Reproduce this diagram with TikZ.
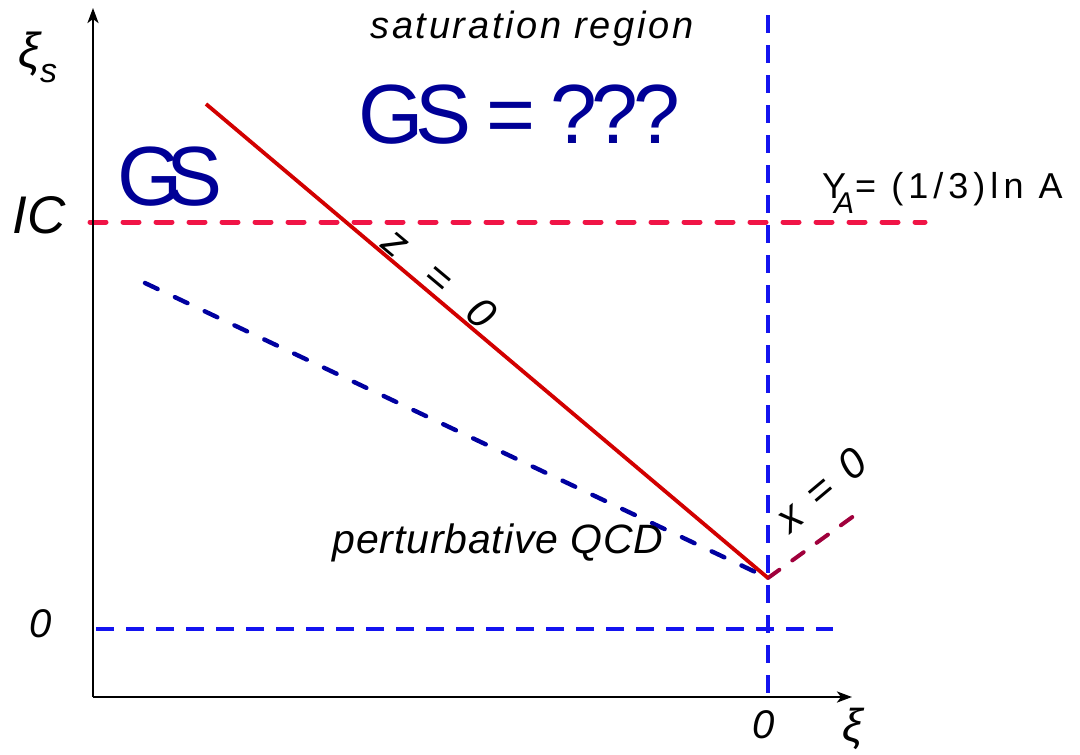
\documentclass[tikz,border=0pt]{standalone}
\usepackage{fontspec}
\setmainfont{Liberation Sans}
\usetikzlibrary{arrows.meta}
\newcommand{\myfs}[1]{\fontsize{#1}{#1}\selectfont}
\definecolor{icred}{RGB}{240,20,70}
\definecolor{zred}{RGB}{210,0,0}
\definecolor{vblue}{RGB}{20,20,240}
\definecolor{navyb}{RGB}{0,0,160}
\definecolor{maroonb}{RGB}{160,0,60}
\definecolor{gsblue}{RGB}{0,0,150}
\begin{document}
\begin{tikzpicture}[x=1pt,y=-1pt,
  axis/.style={black,line width=2.6pt,-{Stealth[length=15pt,width=11pt,inset=4pt]}},
  icline/.style={icred,line width=5pt,line cap=round,dash pattern=on 16pt off 17pt},
  bdash/.style={vblue,line width=3.4pt,dash pattern=on 18pt off 12pt},
  pline/.style={navyb,line width=4.4pt,line cap=round,dash pattern=on 14pt off 19pt},
  xline/.style={maroonb,line width=4pt,line cap=round,dash pattern=on 14pt off 16pt},
  zline/.style={zred,line width=3.8pt},
  lbl/.style={inner sep=0pt,font=\myfs{40}\itshape},
  gs/.style={inner sep=0pt,text=gsblue},
]
\useasboundingbox (0,0) rectangle (1080,755);
% coordinates
\coordinate (O) at (93,697);
\coordinate (ytip) at (93,8);
\coordinate (xtip) at (852,697);
\coordinate (vtop) at (768,15);
\coordinate (vbot) at (768,697);
\coordinate (hl) at (96,629);
\coordinate (hr) at (833,629);
\coordinate (icl) at (90,222);
\coordinate (icr) at (925,222);
\coordinate (zs) at (206,104);
\coordinate (V) at (768,578);
\coordinate (ps) at (145,283);
\coordinate (xe) at (862,510);
% lines
\draw[bdash] (vtop) -- (vbot);
\draw[bdash] (hl) -- (hr);
\draw[pline] (ps) -- (V);
\draw[xline] (V) -- (xe);
\draw[icline] (icl) -- (icr);
\draw[zline] (zs) -- (V);
\draw[axis] (O) -- (ytip);
\draw[axis] (O) -- (xtip);
% labels
\node[inner sep=0pt,anchor=base west,font=\myfs{49}\itshape] (xis) at (18,67) {ξ\raisebox{-15pt}{\myfs{34}s}};
\node[inner sep=0pt,anchor=base,font=\myfs{53}\itshape] (ic) at (39,233) {IC};
\node[lbl,anchor=base] (zero1) at (41,637) {0};
\node[lbl,anchor=base] (zero2) at (764,738) {0};
\node[inner sep=0pt,anchor=base,font=\myfs{46}\itshape] (xi) at (853,741) {ξ};
\node[gs,anchor=base,font={\myfs{84}\addfontfeature{LetterSpace=-20}}] (gs1) at (170,205) {GS};
\node[gs,anchor=base west,font={\myfs{84}}] (gs2) at (358,143) {{\addfontfeature{LetterSpace=-10}GS = }{\addfontfeature{LetterSpace=-6}???}};
\node[inner sep=0pt,anchor=base,font={\myfs{38}\itshape\addfontfeature{LetterSpace=7}}] (sat) at (532,38) {saturation region};
\node[inner sep=0pt,anchor=base,font={\myfs{41}\itshape\addfontfeature{LetterSpace=2}}] (pqcd) at (498,553) {perturbative QCD};
\node[inner sep=0pt,anchor=base west,font={\myfs{36}\addfontfeature{LetterSpace=14}}] (ya) at (822,198) {Y\hspace{-12pt}\raisebox{-15pt}{\myfs{30}\itshape A}\hspace{1pt}= (1/3)ln A};
\node[inner sep=0pt,rotate=-40,font=\myfs{42}\itshape] (zl) at (440,278) {z\hspace{32pt}=\hspace{32pt}0};
\node[inner sep=0pt,rotate=40,font=\myfs{42}\itshape] (xl) at (821,490) {x\hspace{18pt}=\hspace{18pt}0};
\end{tikzpicture}
\end{document}
